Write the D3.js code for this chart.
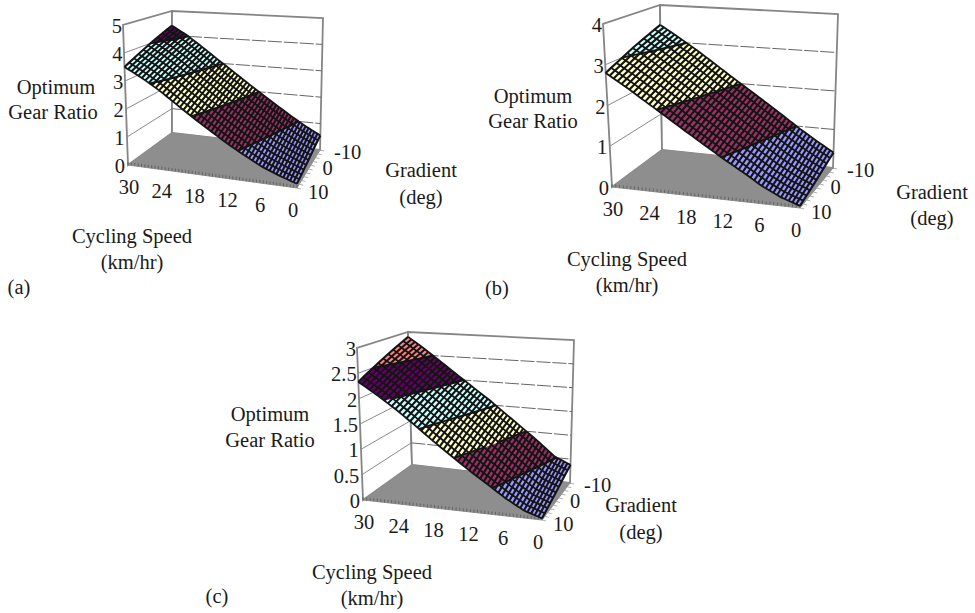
<!DOCTYPE html>
<html><head><meta charset="utf-8">
<script src="https://cdn.jsdelivr.net/npm/d3@7/dist/d3.min.js"></script>
<style>html,body{margin:0;padding:0;background:#fff}svg{display:block}
text{font-family:"Liberation Serif",serif;fill:#1a1a1a}</style></head>
<body><div id="chart"></div>
<script>
const speedKnots = [0,3,6,9,12,15,18,21,24,27,30];
const gradientKnots = [-10,-5,0,5,10];
const speedTicks = [30,24,18,12,6,0];
const gradientTicks = [-10,0,10];
const palette = ["#9999ff","#993366","#ffffcc","#ccffff","#660066","#ff8080"];

// Optimum gear ratio per gradient row (-10,-5,0,5,10) at each speed knot
const ratioA = [
 [.55,.84,1.18,1.55,1.93,2.33,2.75,3.17,3.61,4.04,4.40],
 [.44,.70,1.00,1.36,1.74,2.13,2.54,2.96,3.40,3.82,4.18],
 [.32,.56,.83,1.18,1.55,1.94,2.34,2.76,3.20,3.60,3.95],
 [.22,.44,.68,1.01,1.36,1.74,2.14,2.56,3.00,3.38,3.72],
 [.14,.33,.55,.85,1.18,1.55,1.94,2.36,2.79,3.17,3.50]];
const ratioB = [
 [.40,.66,.94,1.25,1.56,1.87,2.18,2.51,2.84,3.15,3.45],
 [.30,.53,.80,1.10,1.40,1.71,2.02,2.35,2.67,2.99,3.29],
 [.20,.40,.66,.95,1.25,1.56,1.87,2.19,2.51,2.83,3.13],
 [.12,.30,.53,.82,1.11,1.41,1.71,2.03,2.34,2.66,2.96],
 [.05,.20,.42,.70,.97,1.26,1.56,1.87,2.18,2.50,2.80]];
const ratioC = [
 [.38,.52,.79,1.05,1.31,1.58,1.83,2.09,2.36,2.63,2.89],
 [.28,.41,.66,.92,1.18,1.44,1.70,1.96,2.23,2.50,2.75],
 [.18,.31,.54,.80,1.05,1.31,1.56,1.83,2.10,2.37,2.61],
 [.10,.22,.43,.68,.92,1.17,1.43,1.70,1.97,2.23,2.47],
 [.03,.14,.33,.56,.79,1.04,1.30,1.58,1.85,2.10,2.33]];

const ratioTicksA = [0,1,2,3,4,5];
const ratioTicksB = [0,1,2,3,4];
const ratioTicksC = [0,0.5,1,1.5,2,2.5,3];

const panels = [
 {tag:"(a)",data:ratioA,ticks:ratioTicksA,
  A:[128,165],B:[297,188],C:[320,150],D:[172,133],At:[123,25],Bt:[293,38],Ct:[323,18],Dt:[172,11],
  yT:[[56,87,"Optimum"],[53,112,"Gear Ratio"]],xT:[[132,236,"Cycling Speed"],[132,262,"(km/hr)"]],
  gT:[[421,170,"Gradient"],[421,197,"(deg)"]],tagP:[19,287]},
 {tag:"(b)",data:ratioB,ticks:ratioTicksB,
  A:[612,187],B:[800,208],C:[833,168],D:[662,150],At:[603,24],Bt:[796,36],Ct:[838,14],Dt:[660,5],
  yT:[[533,96,"Optimum"],[533,121,"Gear Ratio"]],xT:[[627,259,"Cycling Speed"],[627,285,"(km/hr)"]],
  gT:[[932,192,"Gradient"],[932,218,"(deg)"]],tagP:[497,288]},
 {tag:"(c)",data:ratioC,ticks:ratioTicksC,
  A:[363,500],B:[542,520],C:[570,483],D:[412,465],At:[357,348],Bt:[538,358],Ct:[574,340],Dt:[408,332],
  yT:[[270,414,"Optimum"],[270,440,"Gear Ratio"]],xT:[[372,572,"Cycling Speed"],[372,598,"(km/hr)"]],
  gT:[[641,505,"Gradient"],[641,532,"(deg)"]],tagP:[217,596]}
];

const svg = d3.select("#chart").append("svg").attr("width",975).attr("height",613);
const meshSpeeds = d3.range(51).map(i=>i*0.6), meshGrads = d3.range(11).map(i=>-10+i*2);
const line = d3.line();

function mix(a,b,t){return [a[0]+(b[0]-a[0])*t,a[1]+(b[1]-a[1])*t];}

panels.forEach(p=>{
  const g = svg.append("g");
  const zMax = d3.max(p.ticks), step = p.ticks[1]-p.ticks[0];
  const uS = d3.scaleLinear().domain([30,0]).range([0,1]);
  const vS = d3.scaleLinear().domain([10,-10]).range([0,1]);
  const wS = d3.scaleLinear().domain([0,zMax]).range([0,1]);
  const proj = (s,gr,z)=>{
    const u=uS(s),v=vS(gr),w=wS(z);
    const fl=mix(mix(p.A,p.B,u),mix(p.D,p.C,u),v);
    const tp=mix(mix(p.At,p.Bt,u),mix(p.Dt,p.Ct,u),v);
    return mix(fl,tp,w);
  };
  const rowScales = p.data.map(r=>d3.scaleLinear().domain(speedKnots).range(r));
  const surf = (s,gr)=>d3.scaleLinear().domain(gradientKnots).range(rowScales.map(f=>f(s)))(gr);

  // walls
  const wallL=[[30,-10,0],[30,-10,zMax],[30,10,zMax],[30,10,0]].map(d=>proj(...d));
  const wallB=[[30,-10,0],[30,-10,zMax],[0,-10,zMax],[0,-10,0]].map(d=>proj(...d));
  g.append("path").attr("d",line(wallL)+"Z").attr("fill","#fff").attr("stroke","#858585").attr("stroke-width",1.8);
  g.append("path").attr("d",line(wallB)+"Z").attr("fill","#fff").attr("stroke","#858585").attr("stroke-width",1.8);
  // gridlines
  const gridT = p.ticks.filter(t=>t>0&&t<zMax);
  g.selectAll(".gl").data(gridT).join("path").attr("fill","none").attr("stroke","#8a8a8a").attr("stroke-width",1)
    .attr("d",t=>line([proj(30,10,t),proj(30,-10,t)]));
  g.selectAll(".gb").data(gridT).join("path").attr("fill","none").attr("stroke","#666").attr("stroke-width",1)
    .attr("stroke-dasharray","14 2").attr("d",t=>line([proj(30,-10,t),proj(0,-10,t)]));
  // floor
  g.append("path").attr("d",line([[30,10,0],[0,10,0],[0,-10,0],[30,-10,0]].map(d=>proj(...d)))+"Z")
    .attr("fill","#8e8e8e").attr("stroke","#8e8e8e");
  // floor tick marks
  g.selectAll(".ft").data(meshSpeeds).join("path").attr("stroke","#5a5a5a").attr("stroke-width",.8)
    .attr("d",s=>{const a=proj(s,10,0);return line([a,[a[0],a[1]-3]]);});
  g.selectAll(".fg").data(meshGrads).join("path").attr("stroke","#9c9c9c").attr("stroke-width",.8)
    .attr("d",d=>{const a=proj(0,d,0);return line([a,[a[0]+4,a[1]+1]]);});

  // surface cells split into value bands
  const cells=[];
  meshSpeeds.slice(0,-1).forEach((s,i)=>meshGrads.slice(0,-1).forEach((gr,j)=>{
    const s2=meshSpeeds[i+1],g2=meshGrads[j+1];
    cells.push([[s,gr],[s2,gr],[s2,g2],[s,g2]].map(([a,b])=>({s:a,g:b,z:surf(a,b)})));
  }));
  const lerp=(a,b,L)=>{const t=(L-a.z)/(b.z-a.z);return {s:a.s+(b.s-a.s)*t,g:a.g+(b.g-a.g)*t,z:L};};
  const clip=(poly,L,keepAbove)=>{
    const out=[];
    poly.forEach((a,i)=>{
      const b=poly[(i+1)%poly.length];
      const ia=keepAbove?a.z>=L:a.z<=L, ib=keepAbove?b.z>=L:b.z<=L;
      if(ia) out.push(a);
      if(ia!==ib) out.push(lerp(a,b,L));
    });
    return out;
  };
  const pieces=[], contour=[];
  cells.forEach(c=>{
    for(let k=0;k*step<zMax;k++){
      const lo=k*step,hi=(k+1)*step;
      if(d3.max(c,d=>d.z)<lo||d3.min(c,d=>d.z)>hi) continue;
      let poly=clip(clip(c,lo,true),hi,false);
      if(poly.length>2) pieces.push({k,poly});
      if(k>0){
        const pts=[];
        c.forEach((a,i)=>{const b=c[(i+1)%4];if((a.z-lo)*(b.z-lo)<0)pts.push(lerp(a,b,lo));});
        if(pts.length===2) contour.push(pts);
      }
    }
  });
  const pt=d=>proj(d.s,d.g,d.z);
  g.append("g").selectAll("path").data(pieces).join("path")
    .attr("d",d=>line(d.poly.map(pt))+"Z").attr("fill",d=>palette[d.k]).attr("stroke",d=>palette[d.k]).attr("stroke-width",.3);
  // mesh
  const mesh=g.append("g").attr("fill","none").attr("stroke","#141414");
  mesh.selectAll(".m1").data(meshSpeeds).join("path").attr("stroke-width",2.1).attr("d",s=>line(meshGrads.map(gr=>proj(s,gr,surf(s,gr)))));
  mesh.selectAll(".m2").data(meshGrads).join("path").attr("stroke-width",1.8).attr("d",gr=>line(meshSpeeds.map(s=>proj(s,gr,surf(s,gr)))));
  g.append("g").attr("fill","none").attr("stroke","#141414").attr("stroke-width",2)
    .selectAll("path").data(contour).join("path").attr("d",d=>line(d.map(pt)));

  // tick labels
  const fs=20.5;
  g.selectAll(".zl").data(p.ticks).join("text").attr("font-size",fs).attr("text-anchor","end").attr("dominant-baseline","central")
    .attr("x",t=>proj(30,10,t)[0]-3+2*wS(t)).attr("y",t=>proj(30,10,t)[1]+1).text(t=>t);
  g.selectAll(".sl").data(speedTicks).join("text").attr("font-size",fs).attr("text-anchor","middle").attr("dominant-baseline","central")
    .attr("x",s=>proj(s,10,0)[0]+d3.scaleLinear().domain([30,0]).range([1,-4])(s)).attr("y",s=>proj(s,10,0)[1]+21.5).text(s=>s);
  const gDy = d3.scaleOrdinal().domain(gradientTicks).range([2,-1,4]);
  const gDx = d3.scaleOrdinal().domain(gradientTicks).range([14,14,11]);
  g.selectAll(".gl2").data(gradientTicks).join("text").attr("font-size",fs).attr("text-anchor","start").attr("dominant-baseline","central")
    .attr("x",t=>proj(0,t,0)[0]+gDx(t)).attr("y",t=>proj(0,t,0)[1]+gDy(t)).text(t=>t);
  // titles
  [...p.yT,...p.xT,...p.gT].forEach(([x,y,t])=>g.append("text").attr("x",x).attr("y",y).attr("font-size",fs)
    .attr("text-anchor","middle").attr("dominant-baseline","central").text(t));
  g.append("text").attr("x",p.tagP[0]).attr("y",p.tagP[1]).attr("font-size",fs).attr("text-anchor","middle")
    .attr("dominant-baseline","central").text(p.tag);
});
</script></body></html>
